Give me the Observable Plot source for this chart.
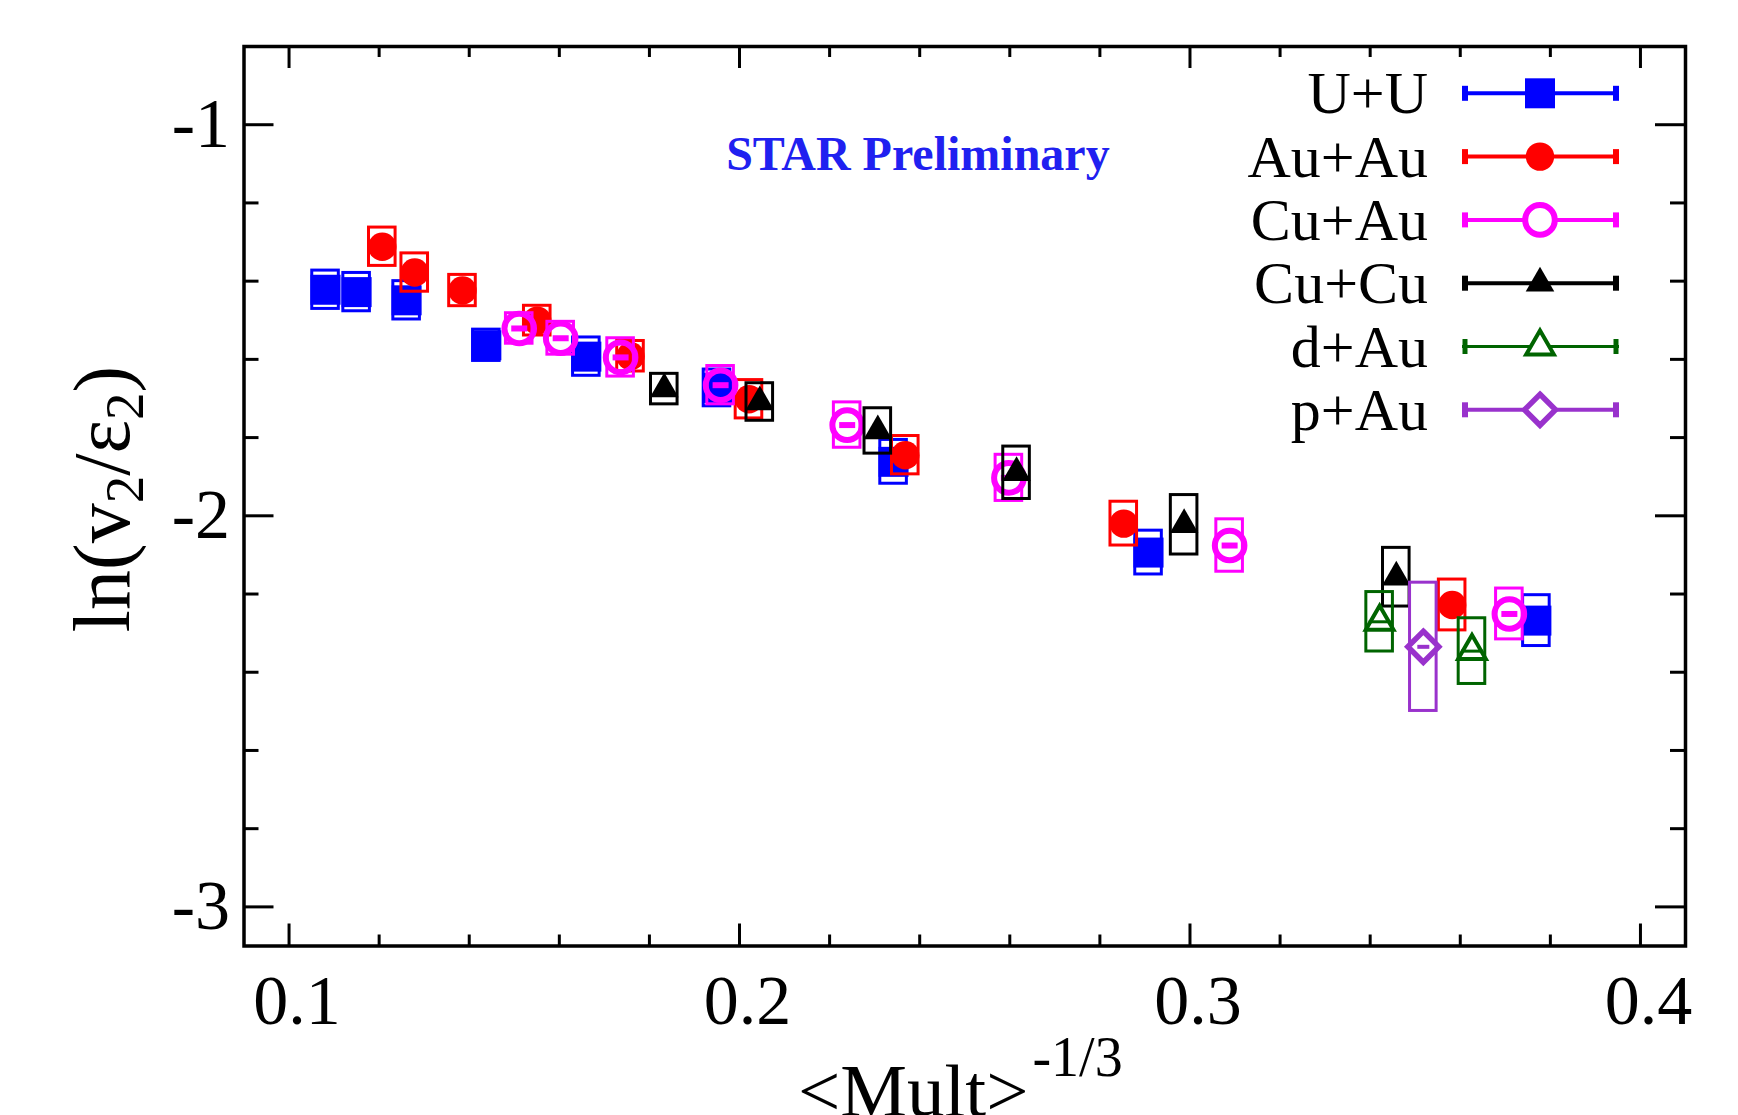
<!DOCTYPE html>
<html>
<head>
<meta charset="utf-8">
<script src="https://cdn.jsdelivr.net/npm/d3@7"></script>
<script src="https://cdn.jsdelivr.net/npm/@observablehq/plot@0.6"></script>
<style>
  body { margin: 0; background: #fff; }
  #chart svg { display: block; }
</style>
</head>
<body>
<div id="chart"></div>
<script>
// ---------------- DATA ----------------
// U+U
const uuX   = [0.1081, 0.1150, 0.1261, 0.1438, 0.1660, 0.1950, 0.2342, 0.2908, 0.3769];
const uuY   = [-1.422, -1.428, -1.449, -1.564, -1.593, -1.673, -1.862, -2.094, -2.268];
const uuSys = [0.049, 0.049, 0.049, 0.040, 0.049, 0.047, 0.056, 0.056, 0.065];
// Au+Au
const auauX   = [0.1207, 0.1279, 0.1385, 0.1551, 0.1758, 0.2021, 0.2368, 0.2853, 0.3582];
const auauY   = [-1.312, -1.378, -1.424, -1.501, -1.592, -1.702, -1.845, -2.020, -2.228];
const auauSys = [0.049, 0.049, 0.040, 0.038, 0.039, 0.049, 0.049, 0.056, 0.065];
// Cu+Au
const cuauX   = [0.1511, 0.1603, 0.1736, 0.1958, 0.2239, 0.2598, 0.3088, 0.3709];
const cuauY   = [-1.521, -1.546, -1.595, -1.666, -1.768, -1.903, -2.076, -2.251];
const cuauSys = [0.039, 0.042, 0.049, 0.049, 0.058, 0.059, 0.067, 0.065];
// Cu+Cu
const cucuX   = [0.1833, 0.2045, 0.2307, 0.2615, 0.2987, 0.3458];
const cucuY   = [-1.676, -1.709, -1.783, -1.890, -2.023, -2.157];
const cucuSys = [0.039, 0.048, 0.058, 0.067, 0.076, 0.075];
// d+Au
const dauX   = [0.3421, 0.3626];
const dauY   = [-2.271, -2.346];
const dauSys = [0.076, 0.084];
// p+Au
const pauX   = [0.3518];
const pauY   = [-2.335];
const pauSys = [0.164];

const legendNames = ["U+U", "Au+Au", "Cu+Au", "Cu+Cu", "d+Au", "p+Au"];
const xMajor = [0.1, 0.2, 0.3, 0.4];
const xMinor = [0.12, 0.14, 0.16, 0.18, 0.22, 0.24, 0.26, 0.28, 0.32, 0.34, 0.36, 0.38];
const yMajor = [-1, -2, -3];
const yMinor = [-1.2, -1.4, -1.6, -1.8, -2.2, -2.4, -2.6, -2.8];
const noteText = "STAR Preliminary";
const noteX = 0.2396, noteY = -1.077;

// ---------------- LAYOUT / STYLE ----------------
const W = 1738, H = 1115;
const mL = 243.5, mR = 53, mT = 46, mB = 169.5;
const innerW = W - mL - mR, innerH = H - mT - mB;
const BOX_HW = 0.00295;
const FONT = "'Liberation Serif', 'Times New Roman', serif";

const R = s => Math.sqrt(s / Math.PI);
const symSquare = {draw(c, s) { const h = R(s); c.rect(-h, -h, 2 * h, 2 * h); }};
const symCircle = {draw(c, s) { const r = R(s); c.moveTo(r, 0); c.arc(0, 0, r, 0, 2 * Math.PI); c.closePath(); }};
const symTri = {draw(c, s) { const r = R(s); const k = Math.sqrt(3) / 2;
  c.moveTo(0, -r); c.lineTo(r * k, r / 2); c.lineTo(-r * k, r / 2); c.closePath(); }};
const symDia = {draw(c, s) { const r = R(s);
  c.moveTo(0, -r); c.lineTo(r, 0); c.lineTo(0, r); c.lineTo(-r, 0); c.closePath(); }};
const dash = th => ({draw(c, s) { const r = R(s); c.rect(-r, -th / 2, 2 * r, th); }});

const rows = (X, Y, S) => X.map((x, i) => ({x, y: Y[i], s: S[i]}));

const series = [
  {data: rows(uuX, uuY, uuSys),       color: "#0000ff", sym: symSquare, r: 15,   filled: true},
  {data: rows(auauX, auauY, auauSys), color: "#ff0000", sym: symCircle, r: 14.2, filled: true},
  {data: rows(cuauX, cuauY, cuauSys), color: "#ff00ff", sym: symCircle, r: 14.8, filled: false, sw: 6, dashR: 8, dashTh: 6},
  {data: rows(cucuX, cucuY, cucuSys), color: "#000000", sym: symTri,    r: 16.5, filled: true},
  {data: rows(dauX, dauY, dauSys),    color: "#006400", sym: symTri,    r: 16,   filled: false, sw: 4, dashR: 11, dashTh: 3, lw: 3},
  {data: rows(pauX, pauY, pauSys),    color: "#9932cc", sym: symDia,    r: 15.5, filled: false, sw: 5.5, dashR: 6, dashTh: 4}
];

function seriesMarks(S) {
  const m = [
    Plot.rect(S.data, {
      x1: d => d.x - BOX_HW, x2: d => d.x + BOX_HW,
      y1: d => d.y - d.s, y2: d => d.y + d.s,
      fill: "none", stroke: S.color, strokeWidth: 3
    }),
    Plot.dot(S.data, {
      x: "x", y: "y", symbol: S.sym, r: S.r,
      fill: S.filled ? S.color : "none",
      stroke: S.filled ? "none" : S.color,
      strokeWidth: S.sw || 0
    })
  ];
  if (S.dashR) m.push(Plot.dot(S.data, {x: "x", y: "y", symbol: dash(S.dashTh), r: S.dashR, fill: S.color, stroke: "none"}));
  return m;
}

const tickStyle = {stroke: "black", strokeWidth: 3};

const plot = Plot.plot({
  width: W, height: H,
  marginLeft: mL, marginRight: mR, marginTop: mT, marginBottom: mB,
  style: {fontFamily: FONT, background: "white", overflow: "visible", color: "black"},
  x: {domain: [0.09, 0.41], label: null},
  y: {domain: [-3.1, -0.8], label: null},
  marks: [
    // inward ticks
    Plot.ruleX(xMajor, {...tickStyle, insetTop: innerH - 22}),
    Plot.ruleX(xMajor, {...tickStyle, insetBottom: innerH - 22}),
    Plot.ruleX(xMinor, {...tickStyle, insetTop: innerH - 11}),
    Plot.ruleX(xMinor, {...tickStyle, insetBottom: innerH - 11}),
    Plot.ruleY(yMajor, {...tickStyle, insetRight: innerW - 30}),
    Plot.ruleY(yMajor, {...tickStyle, insetLeft: innerW - 30}),
    Plot.ruleY(yMinor, {...tickStyle, insetRight: innerW - 15}),
    Plot.ruleY(yMinor, {...tickStyle, insetLeft: innerW - 15}),
    // tick labels
    Plot.axisX({ticks: xMajor, tickSize: 0, tickPadding: 28, dx: 8, fontSize: 70, tickFormat: d => String(d), fill: "black"}),
    Plot.axisY({ticks: yMajor, tickSize: 0, tickPadding: 14, fontSize: 70, tickFormat: d => String(d), fill: "black"}),
    // data
    ...series.flatMap(seriesMarks),
    // annotation
    Plot.text([noteText], {x: () => noteX, y: () => noteY, text: d => d, fill: "#2020f0",
      fontSize: 48, fontWeight: "bold", textAnchor: "middle", lineAnchor: "middle"}),
    Plot.frame({stroke: "black", strokeWidth: 3.5})
  ]
});

const svg = d3.select(plot);

// Legend
const legend = svg.append("g").attr("font-family", FONT);
const lgY0 = 93.3, lgStep = 63.3, lgTextX = 1428, lgL = 1462, lgR = 1619, lgM = 1540;
series.forEach((S, i) => {
  const y = lgY0 + i * lgStep;
  const lw = S.lw || 4;
  legend.append("text").attr("x", lgTextX).attr("y", y + 20).attr("text-anchor", "end")
    .attr("font-size", 60).attr("fill", "black").text(legendNames[i]);
  legend.append("line").attr("x1", lgL).attr("x2", lgR).attr("y1", y).attr("y2", y)
    .attr("stroke", S.color).attr("stroke-width", lw);
  [lgL + 3, lgR - 3].forEach(cx => legend.append("line").attr("x1", cx).attr("x2", cx)
    .attr("y1", y - 7.5).attr("y2", y + 7.5).attr("stroke", S.color).attr("stroke-width", lw + 2));
  legend.append("path").attr("transform", `translate(${lgM},${y})`)
    .attr("d", d3.symbol(S.sym, S.r * S.r * Math.PI)())
    .attr("fill", S.filled ? S.color : "white")
    .attr("stroke", S.filled ? "none" : S.color)
    .attr("stroke-width", S.sw || 0);
});

// X axis title: <Mult>^{-1/3}
const xt = svg.append("text").attr("x", 798).attr("y", 1116).attr("text-anchor", "start")
  .attr("font-family", FONT).attr("font-size", 75).attr("fill", "black");
xt.append("tspan").text("<Mult>");
xt.append("tspan").attr("font-size", 56).attr("dx", 4).attr("dy", -40).text("-1/3");

// Y axis title: ln(v2/ε2)
const yt = svg.append("text").attr("transform", "translate(129,499) rotate(-90)")
  .attr("text-anchor", "middle").attr("font-family", FONT).attr("font-size", 80).attr("fill", "black");
yt.append("tspan").text("ln(v");
yt.append("tspan").attr("font-size", 55).attr("dy", 14).text("2");
yt.append("tspan").attr("dy", -14).text("/ε");
yt.append("tspan").attr("font-size", 55).attr("dy", 14).text("2");
yt.append("tspan").attr("dy", -14).text(")");

document.getElementById("chart").appendChild(plot);
</script>
</body>
</html>
